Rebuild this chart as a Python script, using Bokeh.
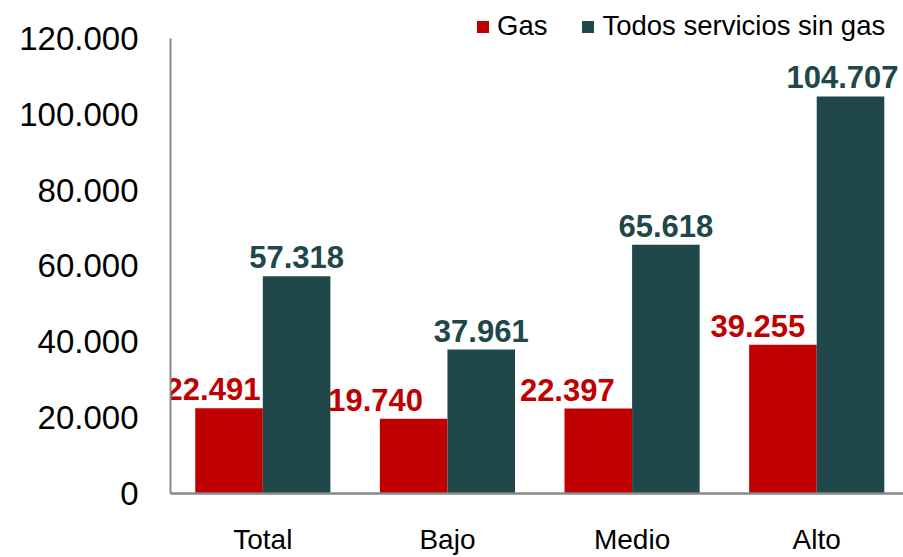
import numpy as np
from bokeh.plotting import figure
from bokeh.models import ColumnDataSource, Range1d, FixedTicker, Legend, LegendItem
from bokeh.core.properties import value
from bokeh.embed import file_html
from bokeh.resources import INLINE

categories = ["Total", "Bajo", "Medio", "Alto"]
gas = [22491, 19740, 22397, 39255]
otros = [57318, 37961, 65618, 104707]
gas_labels = ["22.491", "19.740", "22.397", "39.255"]
otros_labels = ["57.318", "37.961", "65.618", "104.707"]
y_ticks = [0, 20000, 40000, 60000, 80000, 100000, 120000]
y_tick_labels = ["0", "20.000", "40.000", "60.000", "80.000", "100.000", "120.000"]
series_names = ["Gas", "Todos servicios sin gas"]

RED = "#C00000"
TEAL = "#20474A"
FONT = "Liberation Sans"

# label nudges in screen pixels (style only)
gas_dx = [-16, -38, -31, -25]
otros_dx = [0, 0, 0, -8]

idx = np.arange(len(categories)) + 0.5
bw = 0.366
src_gas = ColumnDataSource(dict(x=idx - bw / 2, top=gas, lab=gas_labels, dx=gas_dx))
src_otr = ColumnDataSource(dict(x=idx + bw / 2, top=otros, lab=otros_labels, dx=otros_dx))

y_max = y_ticks[-1]
p = figure(width=903, height=557, output_backend="svg", toolbar_location=None,
           x_range=Range1d(0, 3.97), y_range=Range1d(0, y_max * 494 / 456),
           min_border_left=170, min_border_right=0, min_border_top=0, min_border_bottom=63)
p.outline_line_color = None
p.xgrid.visible = False
p.ygrid.visible = False
p.background_fill_color = "white"

r1 = p.vbar(x="x", top="top", width=bw, source=src_gas, fill_color=RED, line_color=None)
r2 = p.vbar(x="x", top="top", width=bw, source=src_otr, fill_color=TEAL, line_color=None)

p.text(x="x", y="top", text="lab", source=src_gas, x_offset="dx", y_offset=-19,
       text_align="center", text_baseline="alphabetic", text_color=RED,
       text_font=value(FONT), text_font_style="bold", text_font_size="31px")
p.text(x="x", y="top", text="lab", source=src_otr, x_offset="dx", y_offset=-19,
       text_align="center", text_baseline="alphabetic", text_color=TEAL,
       text_font=value(FONT), text_font_style="bold", text_font_size="31px")

# axes
p.yaxis.ticker = FixedTicker(ticks=y_ticks)
p.yaxis.bounds = (0, y_max)
p.yaxis.major_label_overrides = {t: l for t, l in zip(y_ticks, y_tick_labels)}
p.yaxis.major_label_text_font = FONT
p.yaxis.major_label_text_font_size = "33px"
p.yaxis.major_label_text_color = "black"
p.yaxis.major_tick_out = 0
p.yaxis.major_tick_in = 0
p.yaxis.minor_tick_out = 0
p.yaxis.minor_tick_in = 0
p.yaxis.major_label_standoff = 32
p.yaxis.axis_line_color = "#888888"
p.yaxis.axis_line_width = 2

p.xaxis.ticker = FixedTicker(ticks=list(idx))
p.xaxis.major_label_overrides = {float(t): c for t, c in zip(idx, categories)}
p.xaxis.major_label_text_font = FONT
p.xaxis.major_label_text_font_size = "28px"
p.xaxis.major_label_text_color = "black"
p.xaxis.major_tick_out = 0
p.xaxis.major_tick_in = 0
p.xaxis.minor_tick_out = 0
p.xaxis.minor_tick_in = 0
p.xaxis.major_label_standoff = 30
p.xaxis.axis_line_color = "#888888"
p.xaxis.axis_line_width = 2.5

legend = Legend(items=[LegendItem(label=series_names[0], renderers=[r1]),
                       LegendItem(label=series_names[1], renderers=[r2])],
                orientation="horizontal", location=(305, 451),
                glyph_width=15, glyph_height=15, label_standoff=7, spacing=33,
                padding=0, margin=0, border_line_color=None, background_fill_alpha=0,
                label_text_font=FONT, label_text_font_size="27.5px", label_text_color="black")
p.add_layout(legend)

open("out.html", "w").write(file_html(p, INLINE))
